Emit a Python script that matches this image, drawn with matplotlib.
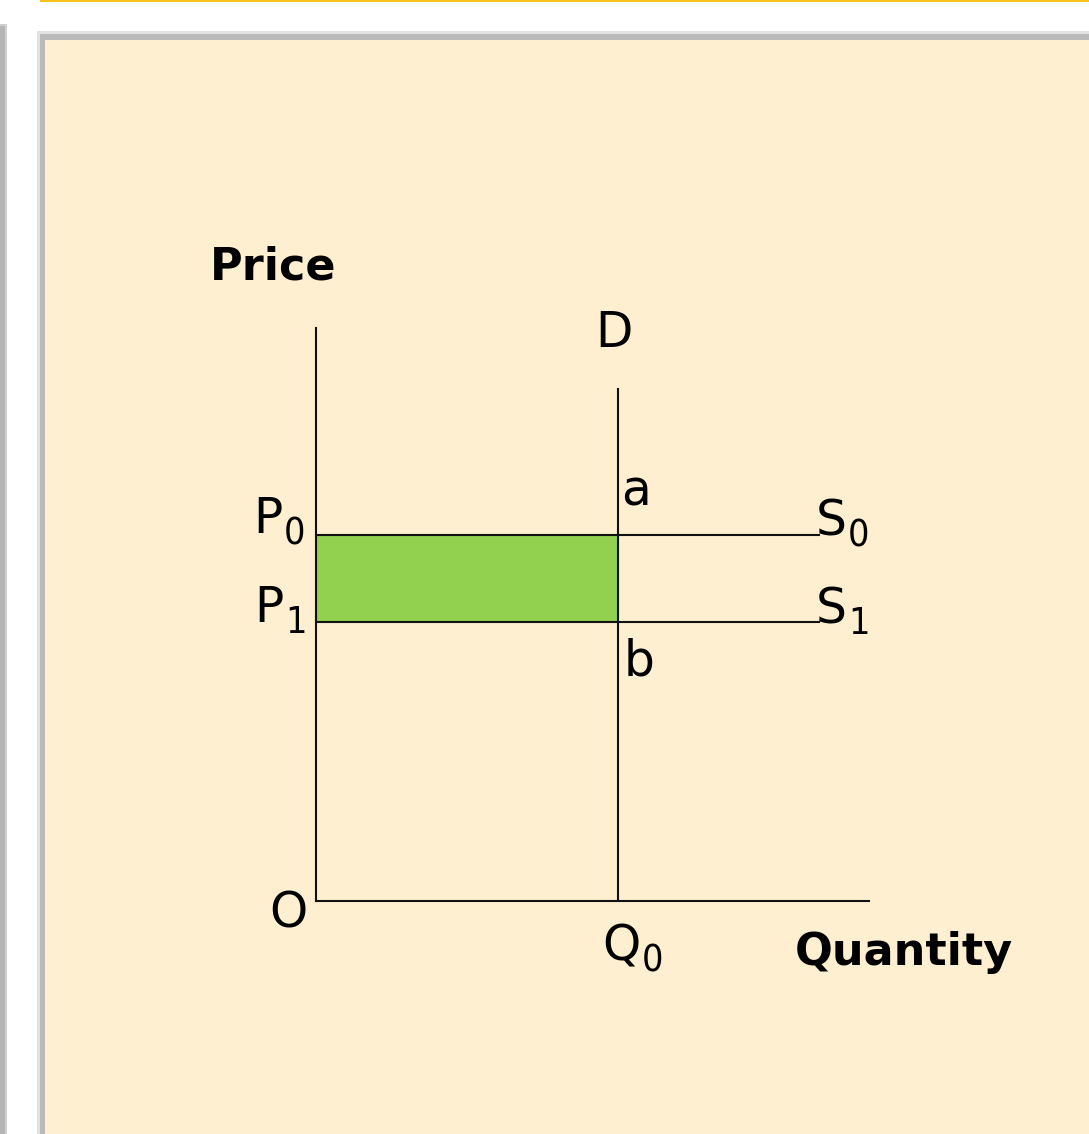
import matplotlib
matplotlib.use('Agg')
import matplotlib.pyplot as plt
from matplotlib.patches import Rectangle

plt.rcParams['font.family'] = ['DejaVu Sans']

# data (arbitrary units)
q0 = 6.0          # demand quantity (vertical D line)
q_end = 10.0      # where supply lines end
p0 = 6.39         # old price / S0
p1 = 4.87         # new price / S1
d_top = 8.94      # top of demand line
x_max, y_max = 11.0, 10.0

cream = '#FEEFD1'
green = '#92D050'

W, H = 1089, 1134
fig = plt.figure(figsize=(W / 100, H / 100), dpi=100)
fig.patch.set_facecolor('white')

# frame decoration (in figure pixels), drawn behind the axes
def fig_rect(x, y, w, h, **kw):
    fig.patches.append(Rectangle((x / W, 1 - (y + h) / H), w / W, h / H,
                                 transform=fig.transFigure, zorder=-5, **kw))

fig_rect(40, 0, W - 40, 2, color='#F6C21E', lw=0)
fig_rect(0, 24, 7, H - 24, color='#D0D0D0', lw=0)
fig_rect(0, 26, 5, H - 26, color='#B5B5B5', lw=0)
fig_rect(37, 31, W - 37, H - 31, color='#E2E2E2', lw=0)
fig_rect(40, 34, W - 40, H - 34, color='#B9B9B9', lw=0)
fig_rect(45, 40, W - 45, H - 40, color=cream, lw=0)

# chart axes: origin at (316, 901), top 328, right 869
x0, y0, x1, y1 = 316, 901, 869, 328
ax = fig.add_axes([x0 / W, 1 - y0 / H, (x1 - x0) / W, (y0 - y1) / H])
ax.set_facecolor('none')
ax.set_xlim(0, x_max)
ax.set_ylim(0, y_max)
for s in ['top', 'right']:
    ax.spines[s].set_visible(False)
for s in ['left', 'bottom']:
    ax.spines[s].set_linewidth(1.5)
    ax.spines[s].set_color('#111111')
ax.set_xticks([])
ax.set_yticks([])

ax.fill_between([0, q0], p1, p0, color=green, lw=0, zorder=1)
ax.plot([0, q_end], [p0, p0], color='#111111', lw=1.5, zorder=2)
ax.plot([0, q_end], [p1, p1], color='#111111', lw=1.5, zorder=2)
ax.plot([q0, q0], [0, d_top], color='#111111', lw=1.5, zorder=2)

fs = 35
bfs = 32


def label(x, y, main, sub=None):
    t = ax.text(x, y, main, fontsize=fs, ha='left', va='baseline')
    if sub is not None:
        ax.annotate(sub, xy=(1, 0), xycoords=t, xytext=(1, -9),
                    textcoords='offset pixels', fontsize=27,
                    fontstretch='condensed', ha='left', va='bottom')


label(-1.24, p0 + 0.03, 'P', '0')
label(-1.22, p1, 'P', '1')
label(q_end - 0.05, p0 - 0.02, 'S', '0')
label(q_end - 0.05, p1 - 0.02, 'S', '1')
label(6.06, 6.91, 'a')
label(6.12, 3.94, 'b')
label(5.55, 9.67, 'D')
label(-0.93, -0.47, 'O')
label(5.7, -1.03, 'Q', '0')

ax.text(-0.855, 10.85, 'Price', fontsize=bfs, fontweight='bold',
        ha='center', va='baseline')
ax.text(11.7, -1.12, 'Quantity', fontsize=bfs, fontweight='bold',
        ha='center', va='baseline')

fig.savefig('out.png', dpi=100, facecolor=fig.get_facecolor())
